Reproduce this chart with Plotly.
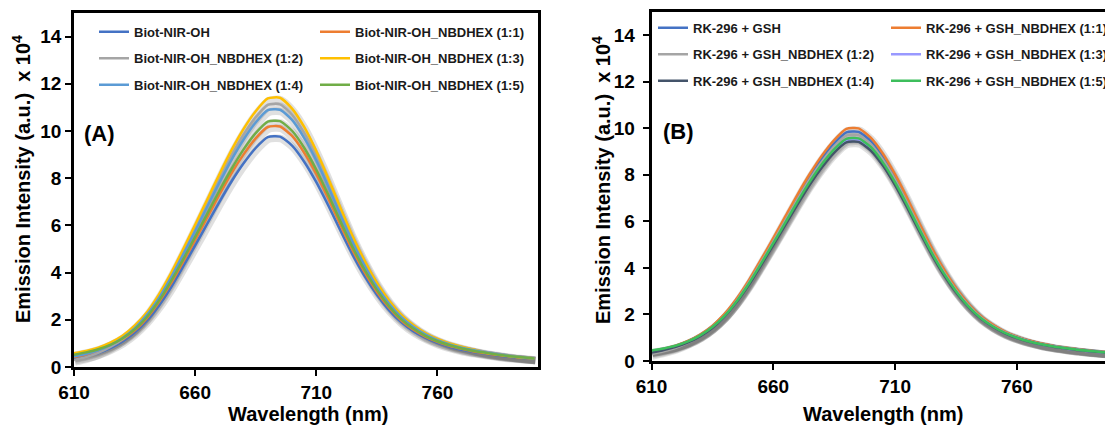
import plotly.graph_objects as go

W, H = 1105, 425
FONT = "Liberation Sans, Arial, sans-serif"

wavelength = list(range(610, 801, 5))

# ---- Panel A data (intensity x 10^4) ----
a_names = ["Biot-NIR-OH", "Biot-NIR-OH_NBDHEX (1:1)", "Biot-NIR-OH_NBDHEX (1:2)",
           "Biot-NIR-OH_NBDHEX (1:3)", "Biot-NIR-OH_NBDHEX (1:4)", "Biot-NIR-OH_NBDHEX (1:5)"]
a_colors = ["#4472C4", "#ED7D31", "#A5A5A5", "#FFC000", "#5B9BD5", "#70AD47"]
a_legend = ["legend", "legend2", "legend", "legend2", "legend", "legend2"]

a_biot = [0.35, 0.45, 0.59, 0.80, 1.08, 1.46, 1.96, 2.60, 3.37, 4.25, 5.15, 6.07, 6.99, 7.86, 8.63, 9.28, 9.74, 9.76, 9.38, 8.70,
          7.83, 6.83, 5.77, 4.75, 3.84, 3.06, 2.41, 1.90, 1.52, 1.24, 1.02, 0.86, 0.73, 0.64, 0.56, 0.49, 0.43, 0.39, 0.35]
a_11 = [0.42, 0.53, 0.67, 0.88, 1.16, 1.54, 2.06, 2.74, 3.54, 4.45, 5.39, 6.34, 7.30, 8.21, 9.01, 9.69, 10.17, 10.19, 9.79, 9.08,
        8.18, 7.13, 6.02, 4.95, 4.01, 3.19, 2.52, 1.98, 1.59, 1.29, 1.07, 0.90, 0.77, 0.66, 0.58, 0.51, 0.45, 0.40, 0.36]
a_12 = [0.30, 0.42, 0.60, 0.85, 1.18, 1.62, 2.20, 2.95, 3.85, 4.85, 5.88, 6.93, 7.98, 8.97, 9.85, 10.58, 11.11, 11.13, 10.69, 9.92,
        8.93, 7.79, 6.58, 5.41, 4.38, 3.49, 2.75, 2.17, 1.74, 1.41, 1.17, 0.98, 0.84, 0.73, 0.64, 0.56, 0.49, 0.43, 0.38]
a_13 = [0.58, 0.68, 0.82, 1.03, 1.32, 1.75, 2.31, 3.07, 3.97, 4.98, 6.03, 7.10, 8.17, 9.19, 10.09, 10.84, 11.38, 11.41, 10.95, 10.17,
        9.15, 7.98, 6.74, 5.54, 4.49, 3.57, 2.82, 2.22, 1.78, 1.44, 1.19, 1.00, 0.86, 0.74, 0.60, 0.53, 0.46, 0.40, 0.36]
a_14 = [0.45, 0.56, 0.71, 0.93, 1.23, 1.64, 2.20, 2.92, 3.79, 4.76, 5.76, 6.79, 7.81, 8.78, 9.64, 10.36, 10.88, 10.90, 10.47, 9.71,
        8.75, 7.63, 6.44, 5.30, 4.29, 3.41, 2.69, 2.12, 1.70, 1.38, 1.14, 0.96, 0.82, 0.71, 0.62, 0.54, 0.47, 0.41, 0.36]
a_15 = [0.52, 0.62, 0.75, 0.94, 1.21, 1.59, 2.11, 2.80, 3.63, 4.55, 5.51, 6.49, 7.47, 8.39, 9.22, 9.91, 10.40, 10.42, 10.01, 9.29,
        8.36, 7.29, 6.16, 5.07, 4.10, 3.27, 2.58, 2.03, 1.63, 1.32, 1.09, 0.92, 0.78, 0.68, 0.60, 0.52, 0.46, 0.41, 0.36]
a_series = [a_biot, a_11, a_12, a_13, a_14, a_15]

# ---- Panel B data (intensity x 10^4) ----
b_names = ["RK-296 + GSH", "RK-296 + GSH_NBDHEX (1:1)", "RK-296 + GSH_NBDHEX (1:2)",
           "RK-296 + GSH_NBDHEX (1:3)", "RK-296 + GSH_NBDHEX (1:4)", "RK-296 + GSH_NBDHEX (1:5)"]
b_colors = ["#4472C4", "#ED7D31", "#A5A5A5", "#9999FF", "#44546A", "#3DBE5C"]
b_legend = ["legend3", "legend4", "legend3", "legend4", "legend3", "legend4"]

b_gsh = [0.41, 0.52, 0.65, 0.85, 1.12, 1.49, 1.99, 2.64, 3.42, 4.30, 5.20, 6.12, 7.05, 7.92, 8.70, 9.35, 9.82, 9.84, 9.45, 8.77,
         7.89, 6.88, 5.81, 4.78, 3.87, 3.08, 2.43, 1.91, 1.54, 1.24, 1.03, 0.87, 0.74, 0.64, 0.56, 0.50, 0.44, 0.39, 0.35]
b_11 = [0.42, 0.52, 0.66, 0.86, 1.14, 1.51, 2.02, 2.68, 3.47, 4.36, 5.28, 6.22, 7.16, 8.04, 8.83, 9.49, 9.97, 9.99, 9.59, 8.90,
        8.01, 6.99, 5.90, 4.86, 3.93, 3.13, 2.47, 1.94, 1.56, 1.26, 1.05, 0.88, 0.75, 0.65, 0.57, 0.50, 0.44, 0.39, 0.36]
b_12 = [0.30, 0.42, 0.57, 0.79, 1.06, 1.44, 1.94, 2.59, 3.37, 4.23, 5.13, 6.04, 6.95, 7.81, 8.57, 9.22, 9.68, 9.70, 9.31, 8.64,
        7.78, 6.78, 5.73, 4.71, 3.81, 3.04, 2.40, 1.89, 1.51, 1.23, 1.02, 0.85, 0.73, 0.63, 0.56, 0.49, 0.43, 0.38, 0.34]
b_13 = [0.42, 0.50, 0.63, 0.82, 1.08, 1.44, 1.92, 2.55, 3.31, 4.15, 5.02, 5.92, 6.81, 7.65, 8.40, 9.03, 9.48, 9.50, 9.13, 8.47,
        7.62, 6.65, 5.62, 4.62, 3.74, 2.98, 2.35, 1.85, 1.48, 1.20, 1.00, 0.84, 0.71, 0.62, 0.54, 0.48, 0.42, 0.38, 0.34]
b_14 = [0.36, 0.47, 0.61, 0.80, 1.06, 1.42, 1.91, 2.53, 3.27, 4.11, 4.98, 5.86, 6.74, 7.58, 8.32, 8.95, 9.39, 9.41, 9.04, 8.39,
        7.55, 6.58, 5.56, 4.58, 3.70, 2.95, 2.33, 1.83, 1.47, 1.19, 0.99, 0.83, 0.71, 0.61, 0.54, 0.47, 0.42, 0.37, 0.33]
b_15 = [0.45, 0.54, 0.66, 0.84, 1.10, 1.46, 1.94, 2.57, 3.33, 4.18, 5.06, 5.95, 6.85, 7.70, 8.46, 9.09, 9.54, 9.56, 9.19, 8.52,
        7.67, 6.69, 5.65, 4.65, 3.76, 3.00, 2.36, 1.86, 1.49, 1.21, 1.00, 0.84, 0.72, 0.62, 0.55, 0.48, 0.43, 0.38, 0.34]
b_series = [b_gsh, b_11, b_12, b_13, b_14, b_15]

x_ticks = [610, 660, 710, 760]
y_ticks = [0, 2, 4, 6, 8, 10, 12, 14]

# ---- geometry (pixels) ----
A_L, A_R, A_T, A_B = 74, 538, 13, 367
B_L, B_T, B_B = 651.5, 11.7, 361
A_XR = [610, 801.5]
B_XR = [610, 610 + (W - B_L) / 2.436]
YR = [0, 15]

fig = go.Figure()

SHADOW = "rgba(60,60,60,0.16)"
# shadows on base axes (drawn underneath)
for ys in a_series:
    fig.add_trace(go.Scatter(x=wavelength, y=ys, mode="lines", xaxis="x", yaxis="y",
                             line=dict(color=SHADOW, width=7.5, shape="spline", smoothing=0.6),
                             showlegend=False, hoverinfo="skip"))
for ys in b_series:
    fig.add_trace(go.Scatter(x=wavelength, y=ys, mode="lines", xaxis="x2", yaxis="y2",
                             line=dict(color=SHADOW, width=7.5, shape="spline", smoothing=0.6),
                             showlegend=False, hoverinfo="skip"))
# main lines on overlay axes
for name, col, lg, ys in zip(a_names, a_colors, a_legend, a_series):
    fig.add_trace(go.Scatter(x=wavelength, y=ys, mode="lines", name=name, xaxis="x3", yaxis="y3",
                             line=dict(color=col, width=2.5, shape="spline", smoothing=0.6),
                             legend=lg, legendgroup=name))
for name, col, lg, ys in zip(b_names, b_colors, b_legend, b_series):
    fig.add_trace(go.Scatter(x=wavelength, y=ys, mode="lines", name=name, xaxis="x4", yaxis="y4",
                             line=dict(color=col, width=2.5, shape="spline", smoothing=0.6),
                             legend=lg, legendgroup=name))

axfont = dict(family=FONT, size=19, color="black", weight="bold")
dxA = (A_XR[1] - A_XR[0]) / (A_R - A_L)
dyA = (YR[1] - YR[0]) / (A_B - A_T)
dxB = (B_XR[1] - B_XR[0]) / (W - B_L)
dyB = (YR[1] - YR[0]) / (B_B - B_T)

xa = [A_L / W, A_R / W]
ya = [(H - A_B) / H, (H - A_T) / H]
xb = [B_L / W, 1.0]
yb = [(H - B_B) / H, (H - B_T) / H]

def frame_x(domain, rng, mirror):
    return dict(domain=domain, range=rng, showline=True, linewidth=2.5, linecolor="black", mirror=mirror,
                ticks="outside", ticklen=6, tickwidth=2, tickcolor="black", tickvals=x_ticks,
                tickfont=axfont, showgrid=False, zeroline=False, fixedrange=True)

def frame_y(domain, mirror):
    return dict(domain=domain, range=YR, showline=True, linewidth=2.5, linecolor="black", mirror=mirror,
                ticks="outside", ticklen=6, tickwidth=2, tickcolor="black", tickvals=y_ticks,
                tickfont=axfont, showgrid=False, zeroline=False, fixedrange=True)

sx, sy = 1.0, 2.0  # shadow pixel offset (right, down)
fig.update_layout(
    width=W, height=H,
    margin=dict(l=0, r=0, t=0, b=0, autoexpand=False),
    paper_bgcolor="white", plot_bgcolor="rgba(0,0,0,0)",
    xaxis=dict(domain=xa, range=[A_XR[0] - sx * dxA, A_XR[1] - sx * dxA], visible=False, anchor="y"),
    yaxis=dict(domain=ya, range=[YR[0] + sy * dyA, YR[1] + sy * dyA], visible=False, anchor="x"),
    xaxis2=dict(domain=xb, range=[B_XR[0] - sx * dxB, B_XR[1] - sx * dxB], visible=False, anchor="y2"),
    yaxis2=dict(domain=yb, range=[YR[0] + sy * dyB, YR[1] + sy * dyB], visible=False, anchor="x2"),
    xaxis3=dict(frame_x(xa, A_XR, True), overlaying="x", anchor="y3"),
    yaxis3=dict(frame_y(ya, True), overlaying="y", anchor="x3"),
    xaxis4=dict(frame_x(xb, B_XR, True), overlaying="x2", anchor="y4"),
    yaxis4=dict(frame_y(yb, False), overlaying="y2", anchor="x4", ticklabelstandoff=4),
    showlegend=True,
)

legfont = dict(family=FONT, size=13, color="#1a1a1a", weight="bold")
def leg(xpx, ypx):
    return dict(x=xpx / W, y=1 - ypx / H, xanchor="left", yanchor="top", orientation="v",
                bgcolor="rgba(0,0,0,0)", borderwidth=0, font=legfont, tracegroupgap=6.6,
                traceorder="grouped")

fig.update_layout(legend=leg(94, 16.7), legend2=leg(315, 16.7),
                  legend3=leg(653, 12.7), legend4=leg(886, 12.7))

ytitle = "Emission Intensity (a.u.)\u00a0\u00a0x 10<sup>4</sup>"
titlefont = dict(family=FONT, size=20, color="black", weight="bold")
annots = [
    dict(text="(A)", x=82 / W, y=1 - 133 / H, xanchor="left", yanchor="middle",
         font=dict(family=FONT, size=22, color="black", weight="bold")),
    dict(text="(B)", x=661 / W, y=1 - 132 / H, xanchor="left", yanchor="middle",
         font=dict(family=FONT, size=22, color="black", weight="bold")),
    dict(text=ytitle, textangle=-90, x=21 / W, y=1 - 179 / H, xanchor="center", yanchor="middle", font=titlefont),
    dict(text=ytitle, textangle=-90, x=601 / W, y=1 - 180 / H, xanchor="center", yanchor="middle", font=titlefont),
    dict(text="Wavelength (nm)", x=308 / W, y=1 - 414 / H, xanchor="center", yanchor="middle", font=titlefont),
    dict(text="Wavelength (nm)", x=883 / W, y=1 - 414 / H, xanchor="center", yanchor="middle", font=titlefont),
]
for a in annots:
    a.update(xref="paper", yref="paper", showarrow=False)
fig.update_layout(annotations=annots)

fig.write_html("out.html")
